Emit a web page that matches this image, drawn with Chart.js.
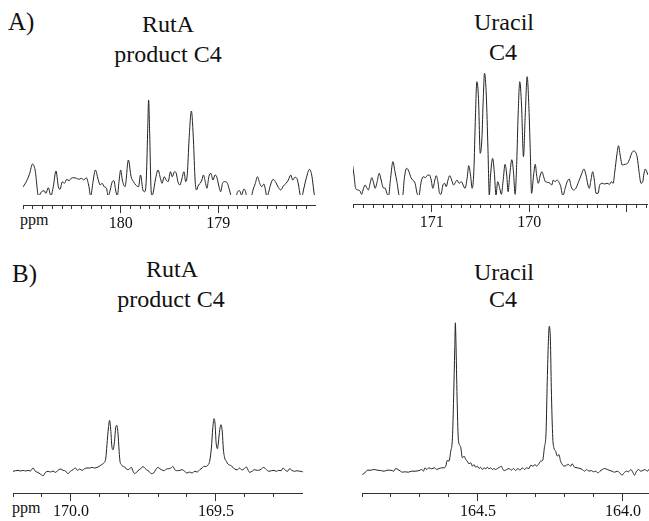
<!DOCTYPE html>
<html>
<head>
<meta charset="utf-8">
<script src="https://cdn.jsdelivr.net/npm/chart.js@4.4.1/dist/chart.umd.min.js"></script>
<style>
body { margin: 0; background: #fff; }
#page { position: relative; width: 649px; height: 521px; overflow: hidden; font-family: "Liberation Serif", "Times New Roman", serif; color: #111; }
canvas { position: absolute; }
.t { position: absolute; font-size: 24px; line-height: 24px; white-space: nowrap; transform: translateX(-50%); }
.p { position: absolute; font-size: 16px; line-height: 16px; white-space: nowrap; }
.lt { position: absolute; font-size: 25px; line-height: 25px; }
</style>
</head>
<body>
<div id="page">
  <div class="lt" style="left:8px;top:9px">A)</div>
  <div class="t" style="left:168px;top:12px">RutA</div>
  <div class="t" style="left:168px;top:42px">product C4</div>
  <div class="t" style="left:504px;top:10px">Uracil</div>
  <div class="t" style="left:503px;top:40px">C4</div>
  <div class="p" style="left:20px;top:212px">ppm</div>

  <div class="lt" style="left:12px;top:261px">B)</div>
  <div class="t" style="left:172px;top:257px">RutA</div>
  <div class="t" style="left:171px;top:287px">product C4</div>
  <div class="t" style="left:504px;top:260px">Uracil</div>
  <div class="t" style="left:503px;top:287px">C4</div>
  <div class="p" style="left:12px;top:500px">ppm</div>

  <canvas id="aLeft" width="293" height="160" style="left:23px;top:80px"></canvas>
  <canvas id="aRight" width="295" height="179" style="left:353px;top:60px"></canvas>
  <canvas id="bLeft" width="290" height="133" style="left:13px;top:395px"></canvas>
  <canvas id="bRight" width="287" height="215" style="left:362px;top:313px"></canvas>
</div>
<script>
// A) RutA product C4
const aLeftPpm = [181.03,180.972,180.931,180.903,180.876,180.841,180.810,180.783,180.766,180.741,180.714,180.690,180.662,180.638,180.621,180.597,180.576,180.552,180.528,180.507,180.479,180.452,180.428,180.403,180.376,180.352,180.328,180.307,180.283,180.259,180.231,180.210,180.190,180.169,180.145,180.128,180.107,180.086,180.069,180.052,180.034,180.017,180.000,179.983,179.955,179.921,179.893,179.869,179.845,179.817,179.797,179.772,179.755,179.738,179.724,179.714,179.703,179.690,179.679,179.662,179.645,179.617,179.593,179.576,179.555,179.534,179.514,179.490,179.472,179.448,179.431,179.414,179.393,179.376,179.352,179.334,179.317,179.300,179.276,179.255,179.238,179.224,179.203,179.186,179.169,179.152,179.134,179.117,179.097,179.076,179.055,179.034,179.017,178.997,178.976,178.955,178.931,178.907,178.886,178.862,178.838,178.817,178.807,178.783,178.762,178.738,178.721,178.710,178.686,178.662,178.645,178.621,178.600,178.576,178.555,178.534,178.517,178.503,178.486,178.466,178.438,178.410,178.386,178.362,178.334,178.307,178.283,178.259,178.238,178.217,178.196,178.179,178.162,178.145,178.128,178.100,178.066,178.041,178.024,178.014];
const aLeftInt = [4.3,12.3,21.7,31,25,-1,3.3,4.3,1.7,7.3,-1,8.3,24,8.3,5.7,13.3,11.7,15.7,14.3,16.7,17.3,16.7,15.7,16.7,15,17.3,10,-1,13.3,25,15.7,10,11.7,8.3,6.7,-1,5,13.3,14.3,5,-1,13.3,25,15,8.3,35,18.3,13.3,10,8.3,20,5,3.3,15,61.7,95,61.7,8.3,-1,5,15,25,16.7,11.7,18.3,15,13.3,23.3,18.3,23.3,21.7,13.3,10,15,23.3,13.3,21.7,55,84,55,15,5,10,11.7,15,20,13.3,6.7,18.3,21.7,15,20,18.3,10,3.3,12.3,13.3,11.7,5,-3,-5,-2,2.3,4.3,0,6,3.3,-2,-5,-2,5,11.7,18.3,11.7,8.3,11,5,-2,2.3,10,15.7,12.3,7.7,5,9,11.7,15,20,15,17.7,16.7,10,0,-2,5,16.7,25.7,18.3,5,-2];
const aLeftMajor = [180, 179];
const aLeftLabels = ['180', '179'];

// A) Uracil C4
const aRightPpm = [171.817,171.800,171.783,171.759,171.738,171.721,171.707,171.686,171.669,171.652,171.634,171.617,171.600,171.583,171.562,171.541,171.521,171.500,171.479,171.462,171.445,171.424,171.400,171.379,171.359,171.334,171.317,171.300,171.283,171.259,171.238,171.214,171.197,171.172,171.152,171.134,171.110,171.086,171.066,171.041,171.024,171.007,170.990,170.969,170.955,170.938,170.921,170.907,170.886,170.869,170.852,170.834,170.817,170.797,170.776,170.755,170.741,170.721,170.697,170.679,170.659,170.638,170.621,170.603,170.586,170.569,170.552,170.538,170.521,170.503,170.486,170.472,170.459,170.441,170.424,170.410,170.397,170.376,170.359,170.341,170.324,170.303,170.286,170.269,170.248,170.231,170.217,170.200,170.179,170.162,170.145,170.128,170.114,170.097,170.079,170.059,170.041,170.021,170.003,169.990,169.976,169.955,169.938,169.924,169.907,169.886,169.869,169.852,169.834,169.810,169.786,169.769,169.752,169.734,169.714,169.697,169.676,169.655,169.631,169.610,169.590,169.569,169.545,169.521,169.493,169.466,169.438,169.417,169.397,169.383,169.366,169.348,169.331,169.314,169.293,169.276,169.252,169.224,169.200,169.176,169.155,169.138,169.121,169.100,169.083,169.066,169.045,169.017,168.990,168.966,168.948,168.928,168.907,168.890,168.872,168.852,168.834,168.821,168.807,168.793,168.779];
const aRightInt = [31.7,20,6.7,5,4,0.7,5,10,7.3,5,11.7,17.3,12.7,6.7,13.3,21.7,15,7.3,6.7,1.7,-1,16.7,33.3,23.3,13.3,-1,-2,-1,16.7,26.7,24,17.3,15,11.7,1.7,-1,13.3,18.3,17.3,20,20,15,6.7,15,19.3,13.3,1.7,0.7,10,11.7,8.3,15,19.3,15,10,13.3,15,11.7,13.3,10,6.7,16.7,29.3,20,6.7,23.3,80,113.3,96.7,41.7,56.7,96.7,121.7,100,46.7,0,20,36.7,23.3,0,13.3,6.7,0.7,13.3,30.7,20,3.3,20,35.3,23.3,0.7,33.3,80,113.3,90,38.3,80,118.3,86.7,46.7,1.7,20,30.7,20,11.7,20,23.3,18.3,13.3,12.7,11.7,10,15,13.3,15,13.3,8.3,-1,6.7,13.3,16,8.3,5,6.7,13.3,20,26,20,10,6.7,15,23.3,15,1.7,1.7,10,11.7,11,11.7,10.7,13.3,11.7,23.3,40,49.3,40,30,30.7,31.7,36.7,41.7,44,42.7,37.3,23.3,11.7,13.3,21.7,26,23.3,20];
const aRightMajor = [171, 170, 169];
const aRightLabels = ['171', '170', ''];

// B) RutA product C4
const bLeftPpm = [170.200,170.191,170.183,170.175,170.165,170.157,170.148,170.140,170.131,170.123,170.114,170.106,170.096,170.088,170.079,170.071,170.062,170.054,170.045,170.037,170.027,170.019,170.010,170.002,169.993,169.985,169.978,169.970,169.962,169.953,169.945,169.936,169.927,169.918,169.910,169.903,169.895,169.887,169.880,169.876,169.871,169.867,169.863,169.859,169.855,169.850,169.846,169.842,169.838,169.834,169.831,169.826,169.821,169.815,169.809,169.803,169.798,169.792,169.786,169.780,169.775,169.765,169.757,169.752,169.746,169.740,169.731,169.723,169.715,169.708,169.700,169.694,169.688,169.679,169.671,169.663,169.656,169.649,169.642,169.633,169.625,169.617,169.608,169.600,169.591,169.583,169.573,169.565,169.556,169.548,169.541,169.533,169.527,169.522,169.516,169.511,169.507,169.503,169.500,169.495,169.492,169.487,169.483,169.478,169.475,169.470,169.464,169.459,169.450,169.441,169.436,169.426,169.419,169.410,169.403,169.395,169.390,169.384,169.376,169.367,169.357,169.349,169.344,169.336,169.326,169.318,169.309,169.300,169.292,169.284,169.275,169.269,169.263,169.254,169.246,169.238,169.229,169.221,169.211,169.206,169.198];
const bLeftInt = [21.7,22.3,22.6,22,22.6,22,22.6,22,25,21.7,20.6,19,17.3,20.6,21.7,21,22,20.6,22.6,24,22.6,22,19.3,21.7,23.3,25,22.6,24,22.6,24.3,25,25,25.6,25,25.6,26.6,28.3,30,35,48.3,65,72.6,63.3,46.6,43.3,51.6,65,67.6,60,41.6,31.6,28.3,26.6,26,24,23.3,24.3,25.6,21.7,19.3,20.6,23.3,25,26.6,25,23.3,21.7,19.3,20,23.3,25.6,24.3,23.3,22.3,24,24.3,25,26.6,23.3,22.3,22.6,23.3,21.7,20,21,20,21.7,21,23.3,25,26.6,26.6,28.3,31.6,45,65,74.3,68.3,51.6,44.3,50,63.3,68.3,60,45,35,31.6,29,27.6,25.6,24,23.3,25,23,24.3,26,23.3,20.6,21.7,23.3,22.6,23,24,25.6,23.3,21.7,22.3,22.6,21.7,22.6,22.3,25,23.3,21.7,24.3,22.6,21.7,22.3,21.7,21.7,20.6];
const bLeftMajor = [170.0, 169.5];
const bLeftLabels = ['170.0', '169.5'];

// B) Uracil C4
const bRightPpm = [164.899,164.890,164.881,164.870,164.859,164.847,164.836,164.824,164.813,164.801,164.790,164.784,164.776,164.767,164.761,164.752,164.740,164.729,164.717,164.703,164.694,164.688,164.683,164.677,164.669,164.660,164.650,164.642,164.634,164.625,164.617,164.611,164.606,164.600,164.594,164.588,164.584,164.580,164.578,164.576,164.572,164.568,164.563,164.559,164.554,164.548,164.542,164.537,164.531,164.525,164.519,164.514,164.508,164.502,164.496,164.491,164.485,164.479,164.473,164.468,164.462,164.456,164.450,164.445,164.439,164.433,164.425,164.419,164.414,164.408,164.401,164.393,164.385,164.378,164.370,164.362,164.355,164.347,164.339,164.332,164.324,164.318,164.310,164.303,164.298,164.290,164.284,164.277,164.271,164.265,164.261,164.257,164.254,164.250,164.247,164.242,164.238,164.232,164.226,164.221,164.215,164.209,164.203,164.195,164.188,164.180,164.175,164.167,164.157,164.148,164.140,164.132,164.125,164.117,164.109,164.102,164.094,164.086,164.079,164.071,164.063,164.054,164.045,164.037,164.029,164.019,164.011,164.003,163.996,163.988,163.981,163.973,163.965,163.960,163.953,163.945,163.939,163.931,163.924,163.916,163.908];
const bRightInt = [18.5,20.2,22.8,22.8,23.5,22.8,22.5,21.8,22.8,22.8,21.8,24.5,23.5,21.8,20.8,21.2,20.8,21.8,21.8,22.5,23.5,21.8,25.2,23.5,25.2,24.2,25.2,23.5,24.5,25.2,25.2,26.8,32.5,31.8,41.8,55.2,95.2,145.2,170.2,151.8,95.2,55.2,47.8,45.2,35.2,36.8,33.5,31.8,29.2,30.2,26.8,28.5,25.8,26.8,24.5,25.8,23.5,25.2,24.2,25.8,24.2,25.2,23.5,24.5,23.5,24.5,25.8,26.8,23.5,22.5,23.5,24.5,22.8,24.5,22.5,24.5,22.8,25.2,23.5,25.2,24.5,27.8,26.8,28.5,26.8,29.2,31.8,32.5,45.2,61.8,111.8,151.8,166.8,151.8,105.2,55.2,45.2,41.8,36.8,38.5,31.8,28.5,26.8,27.8,28.5,26.8,29.2,25.8,25.2,24.5,23.5,21.8,23.5,21.8,22.5,21.2,21.8,20.2,21.8,23.5,24.5,23.5,22.5,21.8,20.8,21.8,20.2,17.8,20.2,21.8,21.2,23.5,20.2,17.8,21.8,23.5,21.8,22.5,23.5,21.8,24.5];
const bRightMajor = [164.5, 164.0];
const bRightLabels = ['164.5', '164.0'];

function spectrumChart(id, ppm, intensity, major, labels, opts) {
    const points = ppm.map((x, i) => ({ x: x, y: intensity[i] }));
    const findMajor = v => major.findIndex(m => Math.abs(m - v) < 1e-6);
    let ctx = document.getElementById(id).getContext('2d');

    return new Chart(ctx, {
        type: 'line',
        data: {
            datasets: [{
                data: points,
                borderColor: '#222',
                borderWidth: 1,
                pointRadius: 0,
                cubicInterpolationMode: 'monotone',
                clip: { left: 0, top: 0, right: 0, bottom: opts.clipBottom }
            }]
        },
        options: {
            responsive: false,
            animation: false,
            events: [],
            layout: { padding: 0 },
            plugins: {
                legend: { display: false },
                tooltip: { enabled: false }
            },
            scales: {
                x: {
                    type: 'linear',
                    reverse: true,
                    min: opts.min,
                    max: opts.max,
                    afterBuildTicks: scale => {
                        const ticks = [];
                        const k0 = Math.ceil(opts.min * 10 - 1e-6);
                        const k1 = Math.floor(opts.max * 10 + 1e-6);
                        for (let k = k0; k <= k1; k++) ticks.push({ value: k / 10 });
                        scale.ticks = ticks;
                    },
                    afterFit: scale => { scale.height = 35; },
                    border: { display: true, color: '#333', width: 1 },
                    grid: {
                        drawOnChartArea: false,
                        drawTicks: true,
                        tickLength: 8,
                        tickColor: '#333',
                        tickWidth: 1,
                        tickBorderDash: c => (c.tick && findMajor(c.tick.value) >= 0) ? [] : [3, 40]
                    },
                    ticks: {
                        autoSkip: false,
                        maxRotation: 0,
                        padding: 1,
                        color: '#111',
                        font: { family: 'Liberation Serif', size: 16 },
                        callback: v => {
                            const i = findMajor(v);
                            return i >= 0 ? labels[i] : '';
                        }
                    }
                },
                y: { display: false, min: opts.yMin, max: opts.yMax }
            }
        }
    });
}

spectrumChart('aLeft', aLeftPpm, aLeftInt, aLeftMajor, aLeftLabels,
    { min: 178.0, max: 181.0, yMin: -10, yMax: 115, clipBottom: -10 });
spectrumChart('aRight', aRightPpm, aRightInt, aRightMajor, aRightLabels,
    { min: 168.78, max: 171.81, yMin: -9, yMax: 135, clipBottom: -9 });
spectrumChart('bLeft', bLeftPpm, bLeftInt, bLeftMajor, bLeftLabels,
    { min: 169.2, max: 170.2, yMin: 0, yMax: 98, clipBottom: 0 });
spectrumChart('bRight', bRightPpm, bRightInt, bRightMajor, bRightLabels,
    { min: 163.91, max: 164.9, yMin: 0, yMax: 180, clipBottom: 0 });
</script>
</body>
</html>
